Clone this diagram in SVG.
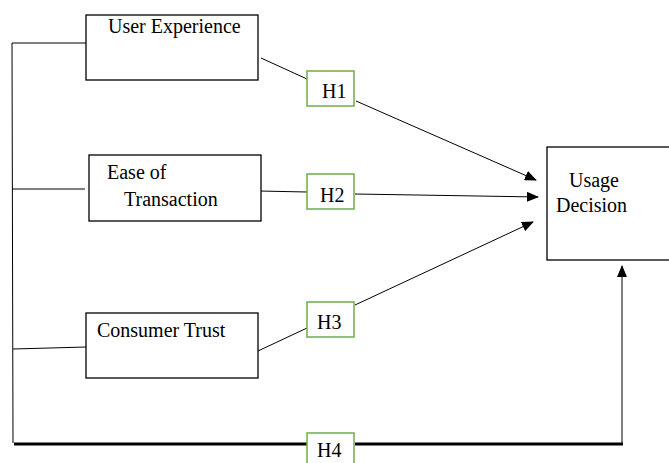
<svg xmlns="http://www.w3.org/2000/svg" width="669" height="463" viewBox="0 0 669 463">
<defs>
<marker id="arr" markerWidth="12" markerHeight="10" refX="11" refY="5" orient="auto" markerUnits="userSpaceOnUse">
<path d="M0,0 L12,5 L0,10 Z" fill="#000"/>
</marker>
<style>
.box{fill:#fff;stroke:#000;stroke-width:1.3}
.hbox{fill:#fff;stroke:#70AD47;stroke-width:1.5}
.t{font-family:"Liberation Serif","Times New Roman",serif;font-size:20px;fill:#000}
.ln{stroke:#000;stroke-width:1;fill:none}
</style>
</defs>
<rect width="669" height="463" fill="#fff"/>
<g id="connectors">
<polyline class="ln" points="89,43 12,43 13,443"/>
<line class="ln" x1="12" y1="189" x2="85" y2="189"/>
<line class="ln" x1="13" y1="349" x2="86" y2="347"/>
<line class="ln" x1="261" y1="58" x2="307" y2="79"/>
<line class="ln" x1="259" y1="191" x2="307" y2="192"/>
<line class="ln" x1="258" y1="351" x2="307" y2="328"/>
<line class="ln" x1="356" y1="101" x2="536" y2="180" marker-end="url(#arr)"/>
<line class="ln" x1="355" y1="194" x2="538" y2="197" marker-end="url(#arr)"/>
<line class="ln" x1="355" y1="305" x2="533" y2="222" marker-end="url(#arr)"/>
<line x1="14" y1="444" x2="307" y2="444" stroke="#000" stroke-width="3"/>
<line x1="355" y1="444" x2="623" y2="444" stroke="#000" stroke-width="3"/>
<line class="ln" x1="622" y1="444" x2="622" y2="266" marker-end="url(#arr)"/>
</g>
<g id="user-experience">
<rect class="box" x="86" y="15" width="172" height="65"/>
<text class="t" x="108" y="33">User Experience</text>
</g>
<g id="ease-of-transaction">
<rect class="box" x="89" y="155" width="172" height="66"/>
<text class="t" x="107" y="179">Ease of</text>
<text class="t" x="124" y="206">Transaction</text>
</g>
<g id="consumer-trust">
<rect class="box" x="86" y="313" width="172" height="65"/>
<text class="t" x="97" y="337">Consumer Trust</text>
</g>
<g id="usage-decision">
<rect class="box" x="547" y="147" width="130" height="113"/>
<text class="t" x="569" y="187">Usage</text>
<text class="t" x="556" y="212">Decision</text>
</g>
<g id="h1">
<rect class="hbox" x="307" y="71" width="47" height="35"/>
<text class="t" x="322" y="98">H1</text>
</g>
<g id="h2">
<rect class="hbox" x="307" y="174" width="47" height="35"/>
<text class="t" x="320" y="202">H2</text>
</g>
<g id="h3">
<rect class="hbox" x="307" y="302" width="47" height="35"/>
<text class="t" x="317" y="329">H3</text>
</g>
<g id="h4">
<rect class="hbox" x="307" y="433" width="47" height="35"/>
<text class="t" x="317" y="457">H4</text>
</g>
</svg>
